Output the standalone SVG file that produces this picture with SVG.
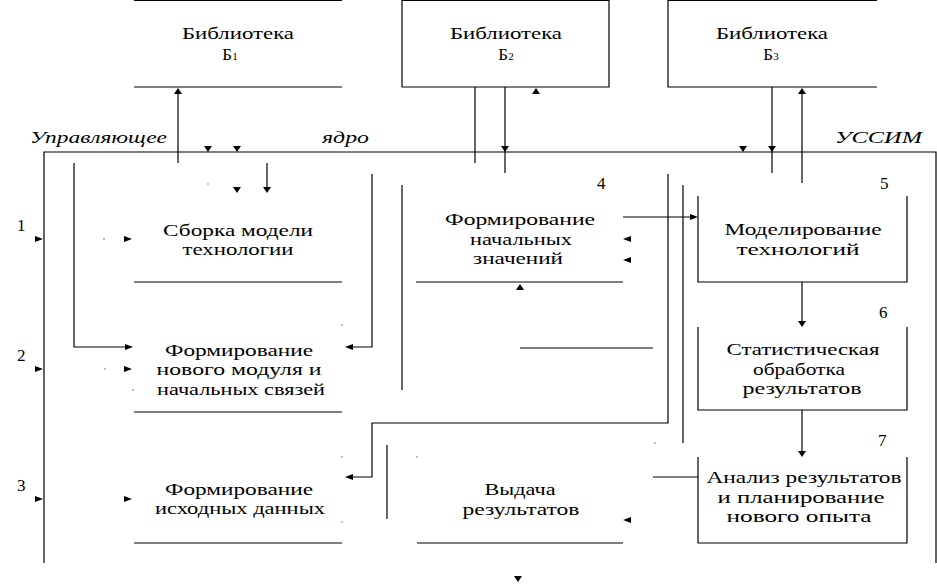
<svg xmlns="http://www.w3.org/2000/svg" width="937" height="586" viewBox="0 0 937 586">
<style>
.ln{stroke:#000;stroke-width:1.2;fill:none}
.t{font-family:"Liberation Serif","Times New Roman",serif;font-size:17px;fill:#000;text-anchor:middle}
.n{font-family:"Liberation Serif","Times New Roman",serif;font-size:17px;fill:#000}
.i{font-family:"Liberation Serif","Times New Roman",serif;font-size:17px;font-style:italic;fill:#000}
.sub{font-size:11px}
.ah{fill:#000}
</style>
<defs>
<path id="hd" d="M0,0 L-4,-6 L4,-6 Z" class="ah"/>
<path id="hu" d="M0,0 L-4,6 L4,6 Z" class="ah"/>
<path id="hr" d="M0,0 L-8,-3 L-8,3 Z" class="ah"/>
<path id="hl" d="M0,0 L8,-3 L8,3 Z" class="ah"/>
</defs>
<rect width="937" height="586" fill="#fff"/>

<g id="frame">
<path class="ln" d="M44,563 V152 H936 V563"/>
<text class="i" x="30" y="143" textLength="137" lengthAdjust="spacingAndGlyphs">Управляющее</text>
<text class="i" x="322" y="143" textLength="47" lengthAdjust="spacingAndGlyphs">ядро</text>
<text class="i" x="835" y="143" textLength="87" lengthAdjust="spacingAndGlyphs">УССИМ</text>
<text class="n" x="17" y="231">1</text>
<text class="n" x="17" y="361">2</text>
<text class="n" x="17" y="491">3</text>
</g>

<g id="lib1">
<path class="ln" d="M134,0.5 H342 M134,87 H342"/>
<text class="t" x="238" y="39" textLength="112" lengthAdjust="spacingAndGlyphs">Библиотека</text>
<text class="t" x="230" y="60">Б<tspan class="sub">1</tspan></text>
</g>
<g id="lib2">
<path class="ln" d="M402,0.5 H609 V87 H402 Z"/>
<text class="t" x="506" y="39" textLength="112" lengthAdjust="spacingAndGlyphs">Библиотека</text>
<text class="t" x="506" y="60">Б<tspan class="sub">2</tspan></text>
</g>
<g id="lib3">
<path class="ln" d="M877,0.5 H668 V87 H877"/>
<text class="t" x="772" y="39" textLength="112" lengthAdjust="spacingAndGlyphs">Библиотека</text>
<text class="t" x="771" y="60">Б<tspan class="sub">3</tspan></text>
</g>

<g id="box1">
<path class="ln" d="M134,282 H342"/>
<text class="t" x="238" y="236" textLength="150" lengthAdjust="spacingAndGlyphs">Сборка модели</text>
<text class="t" x="238" y="255" textLength="111" lengthAdjust="spacingAndGlyphs">технологии</text>
</g>
<g id="box2">
<path class="ln" d="M134,412 H342"/>
<text class="t" x="239" y="356" textLength="148" lengthAdjust="spacingAndGlyphs">Формирование</text>
<text class="t" x="239" y="375" textLength="165" lengthAdjust="spacingAndGlyphs">нового модуля и</text>
<text class="t" x="241" y="395" textLength="168" lengthAdjust="spacingAndGlyphs">начальных связей</text>
</g>
<g id="box3">
<path class="ln" d="M134,543 H342"/>
<text class="t" x="239" y="495" textLength="148" lengthAdjust="spacingAndGlyphs">Формирование</text>
<text class="t" x="240" y="514" textLength="170" lengthAdjust="spacingAndGlyphs">исходных данных</text>
</g>
<g id="box4">
<path class="ln" d="M416,282 H623"/>
<text class="n" x="597" y="189">4</text>
<text class="t" x="520" y="225" textLength="150" lengthAdjust="spacingAndGlyphs">Формирование</text>
<text class="t" x="521" y="245" textLength="102" lengthAdjust="spacingAndGlyphs">начальных</text>
<text class="t" x="518" y="264" textLength="90" lengthAdjust="spacingAndGlyphs">значений</text>
</g>
<g id="box5">
<path class="ln" d="M698,196 V282 H907 V196"/>
<text class="n" x="880" y="189">5</text>
<text class="t" x="803" y="235" textLength="157" lengthAdjust="spacingAndGlyphs">Моделирование</text>
<text class="t" x="798" y="255" textLength="123" lengthAdjust="spacingAndGlyphs">технологий</text>
</g>
<g id="box6">
<path class="ln" d="M698,327 V410 H907 V327"/>
<text class="n" x="879" y="318">6</text>
<text class="t" x="803" y="355" textLength="153" lengthAdjust="spacingAndGlyphs">Статистическая</text>
<text class="t" x="799" y="375" textLength="92" lengthAdjust="spacingAndGlyphs">обработка</text>
<text class="t" x="802" y="394" textLength="119" lengthAdjust="spacingAndGlyphs">результатов</text>
</g>
<g id="box7">
<path class="ln" d="M698,457 V543 H907 V457"/>
<text class="n" x="878" y="446">7</text>
<text class="t" x="804" y="483" textLength="195" lengthAdjust="spacingAndGlyphs">Анализ результатов</text>
<text class="t" x="801" y="503" textLength="167" lengthAdjust="spacingAndGlyphs">и планирование</text>
<text class="t" x="799" y="522" textLength="145" lengthAdjust="spacingAndGlyphs">нового опыта</text>
</g>
<g id="box8">
<path class="ln" d="M417,543 H623"/>
<text class="t" x="520" y="495" textLength="71" lengthAdjust="spacingAndGlyphs">Выдача</text>
<text class="t" x="521" y="515" textLength="117" lengthAdjust="spacingAndGlyphs">результатов</text>
</g>

<g id="connectors">
<path class="ln" d="M178,163 V90"/>
<use href="#hu" x="178" y="88"/>
<use href="#hd" x="208" y="152"/>
<use href="#hd" x="237" y="152"/>
<path class="ln" d="M74,163 V347 H128"/>
<use href="#hr" x="133" y="347"/>
<path class="ln" d="M267,163 V188"/>
<use href="#hd" x="267" y="193"/>
<use href="#hd" x="237" y="193"/>
<path class="ln" d="M372,174 V347 H350"/>
<use href="#hl" x="345" y="347"/>
<path class="ln" d="M402,185 V390"/>
<path class="ln" d="M475,87 V163"/>
<path class="ln" d="M505,87 V173"/>
<use href="#hd" x="505" y="152"/>
<use href="#hu" x="536" y="88"/>
<use href="#hd" x="743" y="152"/>
<path class="ln" d="M772,87 V173"/>
<use href="#hd" x="772" y="152"/>
<path class="ln" d="M802,183 V90"/>
<use href="#hu" x="802" y="88"/>
<path class="ln" d="M668,174 V423 H372 V477 H350"/>
<use href="#hl" x="345" y="477"/>
<path class="ln" d="M683,185 V443"/>
<path class="ln" d="M623,217 H693"/>
<use href="#hr" x="698" y="217"/>
<use href="#hl" x="623" y="239"/>
<use href="#hl" x="623" y="260"/>
<use href="#hu" x="520" y="284"/>
<path class="ln" d="M520,348 H653"/>
<path class="ln" d="M802,282 V322"/>
<use href="#hd" x="802" y="327"/>
<path class="ln" d="M802,410 V452"/>
<use href="#hd" x="802" y="457"/>
<path class="ln" d="M653,477 H698"/>
<use href="#hl" x="623" y="520"/>
<path class="ln" d="M387,445 V519"/>
<use href="#hd" x="518" y="582"/>
<use href="#hr" x="43" y="239"/>
<use href="#hr" x="132" y="239"/>
<use href="#hr" x="43" y="369"/>
<use href="#hr" x="132" y="369"/>
<use href="#hr" x="43" y="499"/>
<use href="#hr" x="132" y="499"/>
<g class="ah">
<rect x="207.5" y="183.5" width="1" height="1"/>
<rect x="103.5" y="238.5" width="1" height="1"/>
<rect x="104.5" y="368.5" width="1" height="1"/>
<rect x="132.5" y="389.5" width="1" height="1"/>
<rect x="341.5" y="324.5" width="1" height="1"/>
<rect x="341.5" y="456.5" width="1" height="1"/>
<rect x="341.5" y="521.5" width="1" height="1"/>
<rect x="416.5" y="456.5" width="1" height="1"/>
<rect x="654.5" y="442.5" width="1" height="1"/>
</g>
</g>
</svg>
